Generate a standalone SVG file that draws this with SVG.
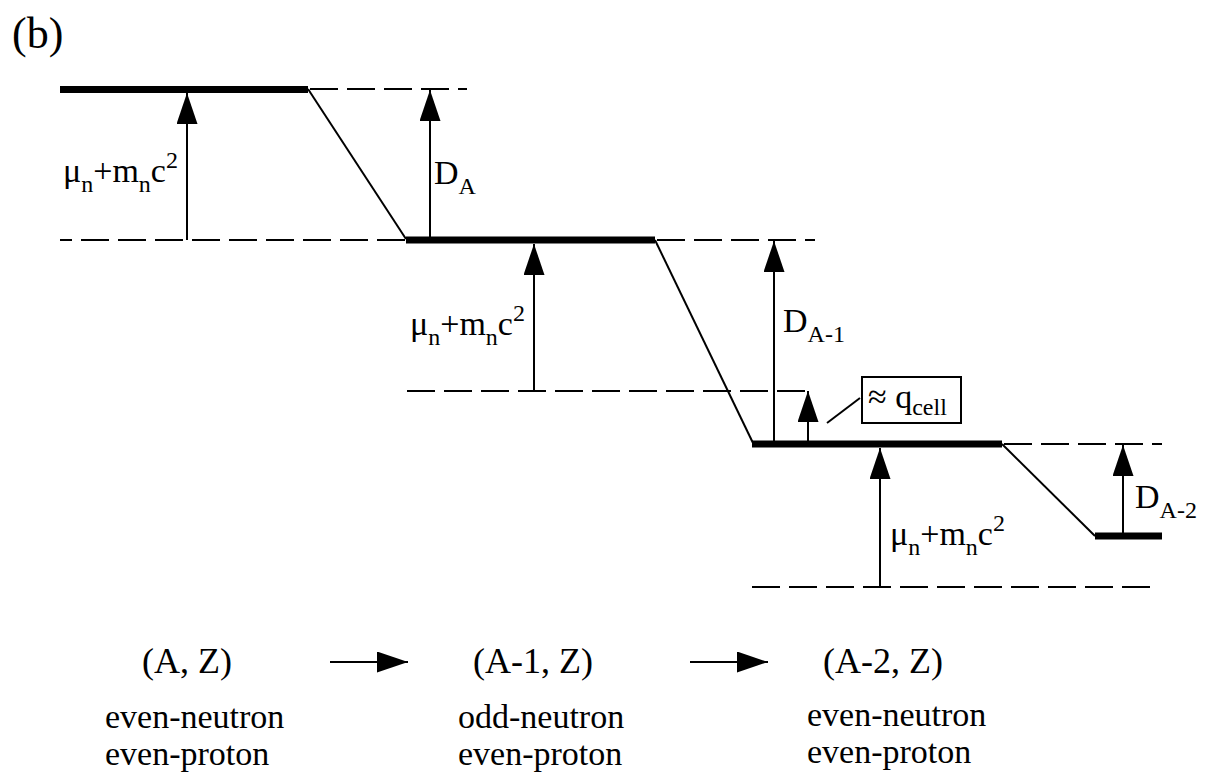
<svg xmlns="http://www.w3.org/2000/svg" width="1205" height="778" viewBox="0 0 1205 778">
<style>
text{font-family:"Liberation Serif","Times New Roman",serif;fill:#000}
.lbl{font-size:34px}
.sub{font-size:24px}
.big{font-size:36px}
.lvl{stroke:#000;stroke-width:7;fill:none}
.dash{stroke:#000;stroke-width:2;fill:none;stroke-dasharray:28 9}
.thin{stroke:#000;stroke-width:2;fill:none}
.arr{stroke:#000;stroke-width:2;fill:none;marker-end:url(#ah)}
</style>
<defs>
<marker id="ah" markerUnits="userSpaceOnUse" markerWidth="32" markerHeight="22" refX="31" refY="10.5" orient="auto">
<path d="M0,0 L31,10.5 L0,21 Z" fill="#000"/>
</marker>
</defs>
<rect width="1205" height="778" fill="#fff"/>
<text id="panel" x="12" y="48" style="font-size:44px">(b)</text>

<g id="levels">
<line id="level-A" class="lvl" x1="60" y1="89.5" x2="308" y2="89.5"/>
<line id="level-A1" class="lvl" x1="406" y1="240" x2="655" y2="240"/>
<line id="level-A2" class="lvl" x1="752" y1="444" x2="1002" y2="444"/>
<line id="level-A3" class="lvl" x1="1095" y1="536" x2="1162" y2="536"/>
</g>

<g id="refs">
<line class="dash" x1="308" y1="89" x2="467" y2="89" stroke-dashoffset="-2"/>
<line class="dash" x1="60" y1="240" x2="406" y2="240" stroke-dashoffset="16"/>
<line class="dash" x1="655" y1="240" x2="815" y2="240" stroke-dashoffset="-2"/>
<line class="dash" x1="407" y1="391" x2="809" y2="391"/>
<line class="dash" x1="1002" y1="444" x2="1162" y2="444" stroke-dashoffset="-2"/>
<line class="dash" x1="752" y1="587" x2="1153" y2="587"/>
</g>

<g id="connectors">
<line class="thin" x1="308" y1="89" x2="406" y2="239"/>
<line class="thin" x1="655" y1="240" x2="753" y2="443"/>
<line class="thin" x1="1002" y1="444" x2="1095" y2="536"/>
<line class="arr" x1="187" y1="240" x2="187" y2="93"/>
<line class="arr" x1="430" y1="240" x2="430" y2="90"/>
<line class="arr" x1="534" y1="391" x2="534" y2="244"/>
<line class="arr" x1="774" y1="441" x2="774" y2="241"/>
<line class="arr" x1="808" y1="441" x2="808" y2="391"/>
<line class="arr" x1="880" y1="587" x2="880" y2="448"/>
<line class="arr" x1="1123" y1="533" x2="1123" y2="445"/>
<line class="thin" x1="827" y1="423" x2="860" y2="398"/>
<line class="arr" x1="330" y1="662" x2="408" y2="662"/>
<line class="arr" x1="690" y1="662" x2="768" y2="662"/>
</g>

<g id="labels">
<text class="lbl" x="63" y="182">μ<tspan class="sub" dy="10">n</tspan><tspan dy="-10">+m</tspan><tspan class="sub" dy="10">n</tspan><tspan dy="-10">c</tspan><tspan class="sub" dy="-14">2</tspan></text>
<text class="lbl" x="410" y="335">μ<tspan class="sub" dy="10">n</tspan><tspan dy="-10">+m</tspan><tspan class="sub" dy="10">n</tspan><tspan dy="-10">c</tspan><tspan class="sub" dy="-14">2</tspan></text>
<text class="lbl" x="890" y="545">μ<tspan class="sub" dy="10">n</tspan><tspan dy="-10">+m</tspan><tspan class="sub" dy="10">n</tspan><tspan dy="-10">c</tspan><tspan class="sub" dy="-14">2</tspan></text>
<text class="lbl" x="434" y="184">D<tspan class="sub" dy="10">A</tspan></text>
<text class="lbl" x="783" y="332">D<tspan class="sub" dy="10">A-1</tspan></text>
<text class="lbl" x="1135" y="508">D<tspan class="sub" dy="10">A-2</tspan></text>
</g>

<g id="qcell">
<rect x="862" y="377" width="99" height="46" fill="none" stroke="#000" stroke-width="2"/>
<text class="lbl" x="868" y="408">≈ q<tspan class="sub" dy="7">cell</tspan></text>
</g>

<g id="nucleus-A">
<text class="big" x="142" y="673">(A, Z)</text>
<text class="lbl" x="105" y="728">even-neutron</text>
<text class="lbl" x="105" y="765">even-proton</text>
</g>
<g id="nucleus-A1">
<text class="big" x="473" y="673">(A-1, Z)</text>
<text class="lbl" x="458" y="728">odd-neutron</text>
<text class="lbl" x="458" y="765">even-proton</text>
</g>
<g id="nucleus-A2">
<text class="big" x="823" y="673">(A-2, Z)</text>
<text class="lbl" x="807" y="726">even-neutron</text>
<text class="lbl" x="807" y="763">even-proton</text>
</g>
</svg>
